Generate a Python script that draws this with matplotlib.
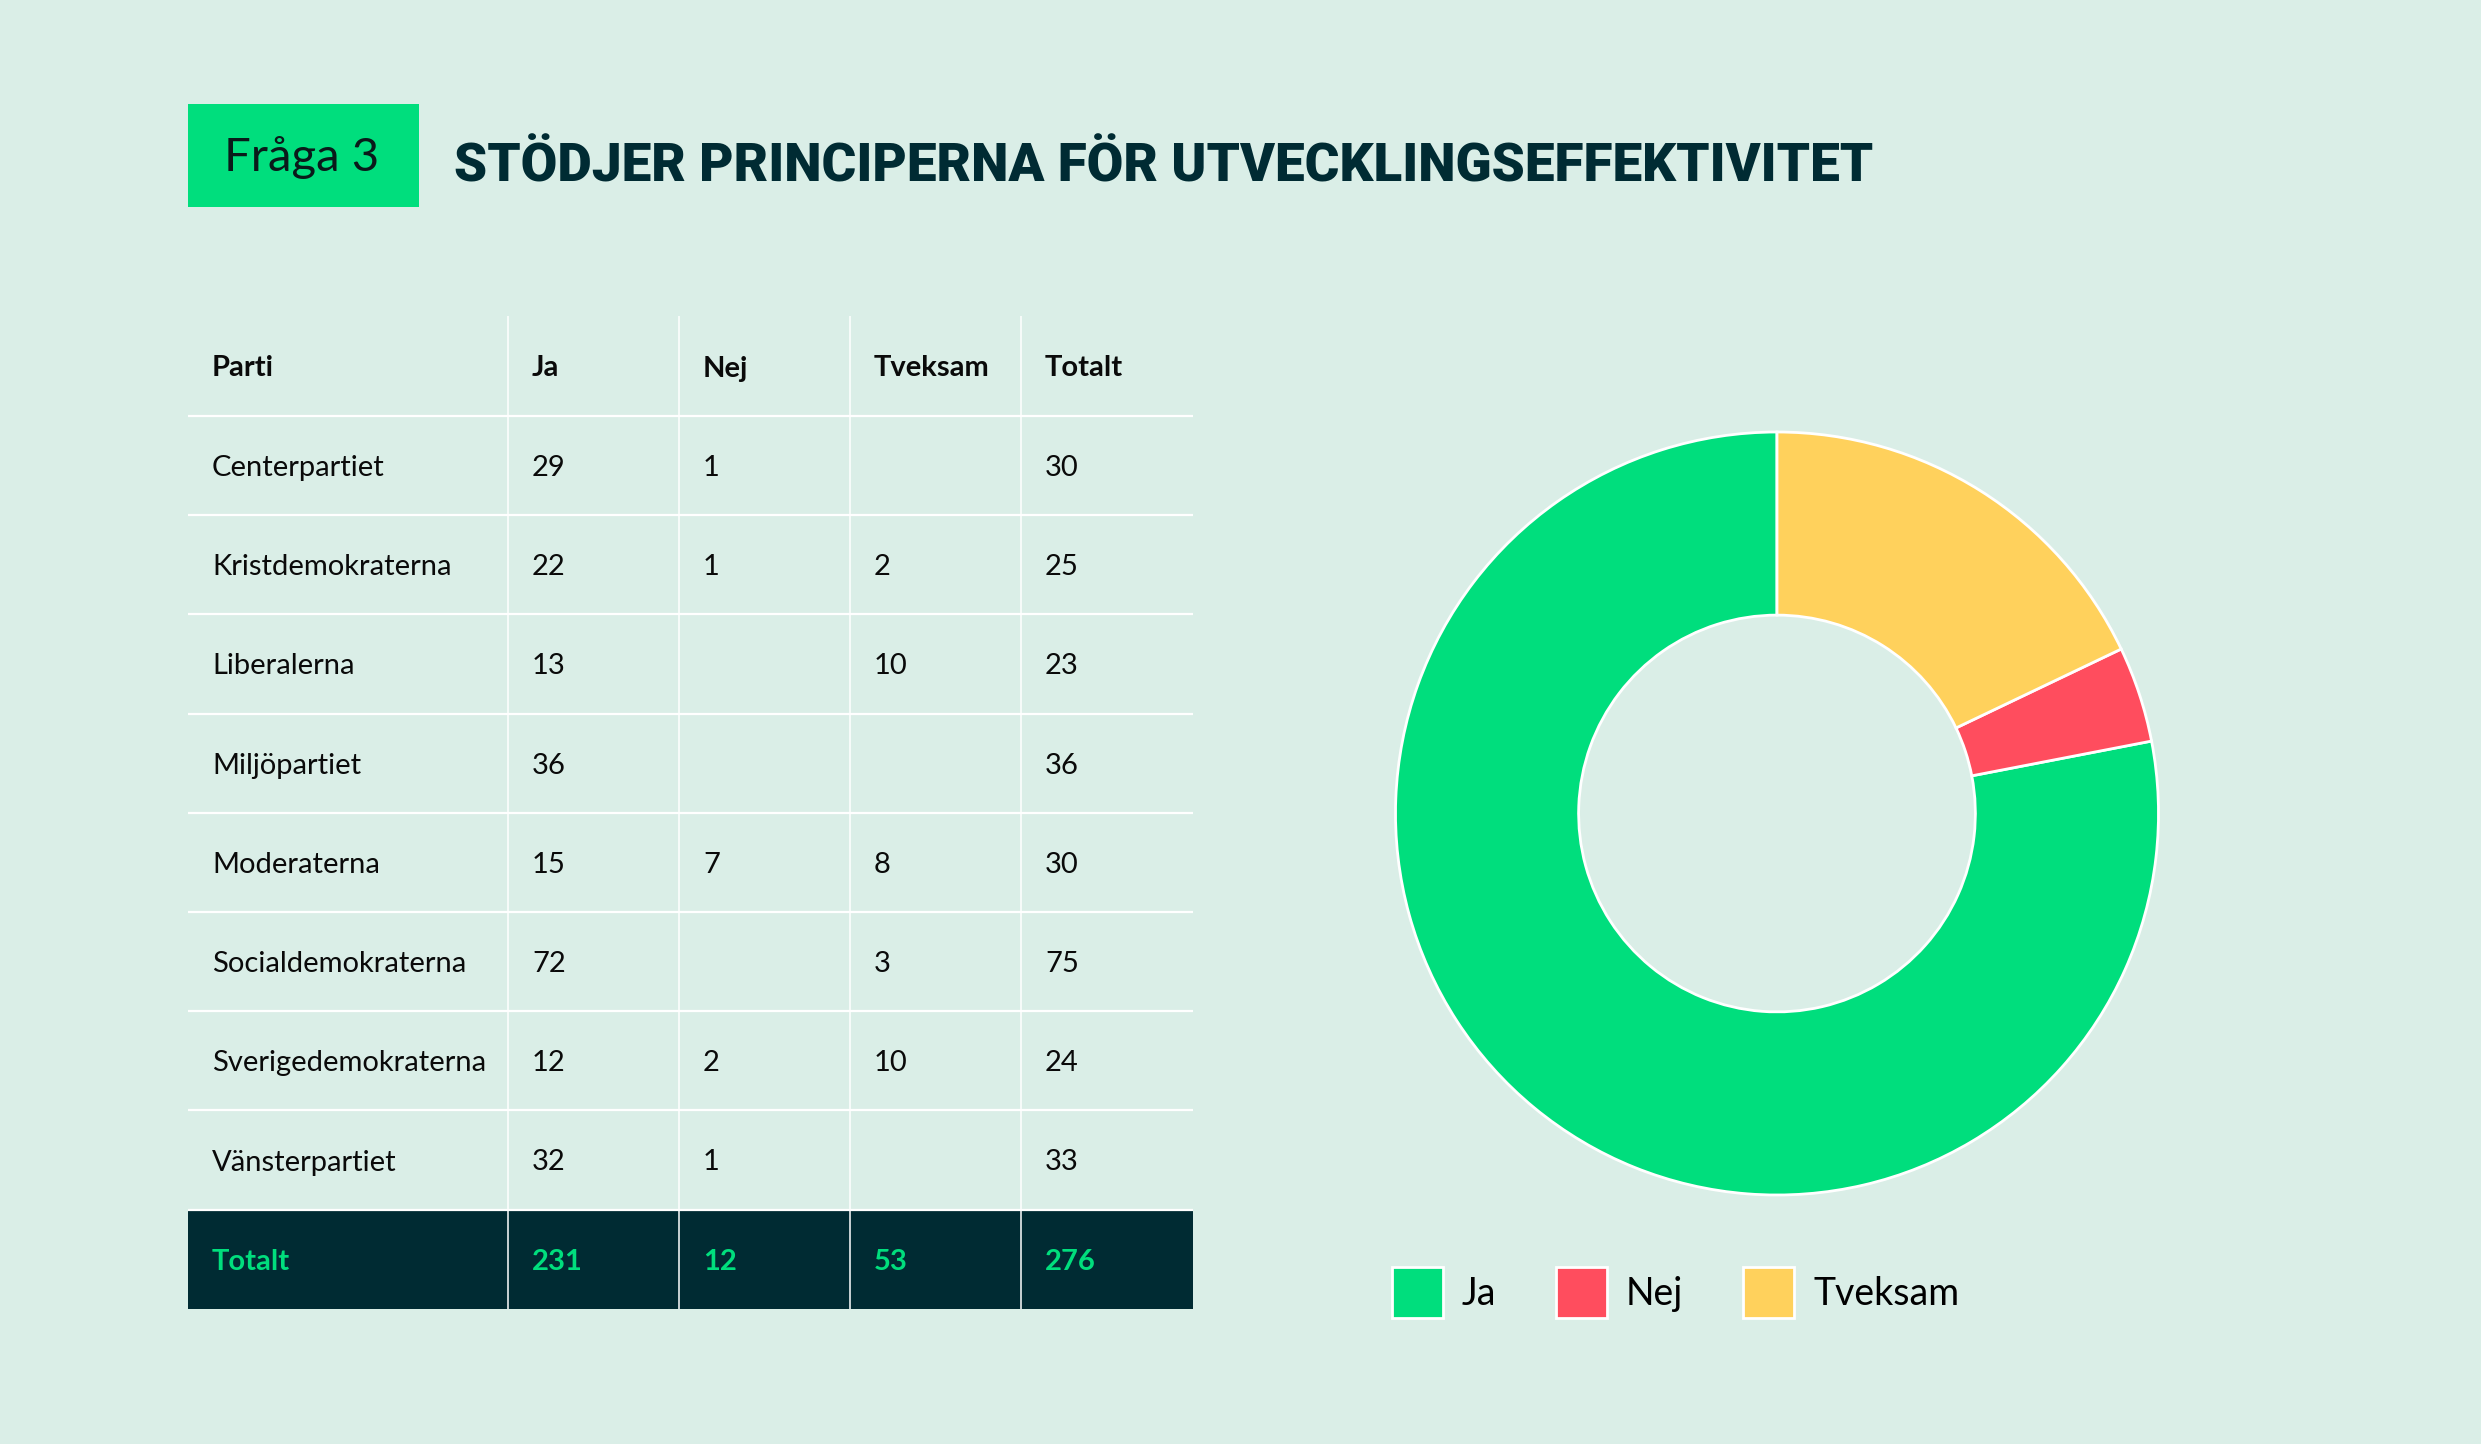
import matplotlib.pyplot as plt
from matplotlib.patches import Rectangle

# Table data
columns = ['Parti', 'Ja', 'Nej', 'Tveksam', 'Totalt']
parties = ['Centerpartiet', 'Kristdemokraterna', 'Liberalerna', 'Miljöpartiet',
           'Moderaterna', 'Socialdemokraterna', 'Sverigedemokraterna', 'Vänsterpartiet']
ja = [29, 22, 13, 36, 15, 72, 12, 32]
nej = [1, 1, None, None, 7, None, 2, 1]
tveksam = [None, 2, 10, None, 8, 3, 10, None]
totalt = [30, 25, 23, 36, 30, 75, 24, 33]
total_row = ['Totalt', 231, 12, 53, 276]

# Donut data (the totals as printed in the table)
pie_labels = ['Ja', 'Nej', 'Tveksam']
pie_values = [231, 12, 53]

GREEN = '#00DE7D'
RED = '#FF4D5E'
YELLOW = '#FFD15C'
DARK = '#002B33'
BG = '#DAEEE7'
pie_colors = [GREEN, RED, YELLOW]

W, H = 2481, 1444
fig = plt.figure(figsize=(W / 100, H / 100), dpi=100, facecolor=BG)

# base axes in pixel coordinates for the table and header
ax = fig.add_axes([0, 0, 1, 1])
ax.set_xlim(0, W)
ax.set_ylim(H, 0)
ax.axis('off')

body_font = ['Lato', 'DejaVu Sans']
title_font = ['Roboto', 'DejaVu Sans']

# Header box and title
ax.add_patch(Rectangle((188, 104), 231, 103, color=GREEN, lw=0))
ax.text(224, 171, 'Fråga 3', fontsize=34, family=body_font, color='#0A1A1A', va='baseline')
title = ax.text(454, 182, 'STÖDJER PRINCIPERNA FÖR UTVECKLINGSEFFEKTIVITET', fontsize=40,
                family=title_font, fontweight='black', color=DARK, va='baseline')
# fit the title to the width it has in the original
fig.canvas.draw()
tw = title.get_window_extent(fig.canvas.get_renderer()).width
title.set_fontsize(40 * 1419 / tw)

# Table
col_x = [188, 508, 679, 850, 1021, 1193]
top = 316
first_line = 416
row_h = 99.2
n_rows = len(parties)
total_top = first_line + n_rows * row_h
bottom = total_top + row_h

ax.add_patch(Rectangle((col_x[0], total_top), col_x[-1] - col_x[0], row_h,
                       color=DARK, lw=0, zorder=1))
for k in range(n_rows + 1):
    y = first_line + k * row_h
    ax.hlines(y, col_x[0], col_x[-1], color='white', lw=1.6, zorder=2)
ax.vlines(col_x[1:5], top, bottom, color='white', lw=1.1, zorder=2)

cap = 21
pad = 24
fs = 21


def cell(v):
    return '' if v is None else str(v)


header_y = (top + first_line) / 2 + cap / 2
for i, c in enumerate(columns):
    ax.text(col_x[i] + pad, header_y, c, fontsize=fs, family=body_font,
            fontweight='bold', color='#0A0A0A', va='baseline', zorder=3)

for r in range(n_rows):
    y = first_line + r * row_h + row_h / 2 + cap / 2
    vals = [parties[r], cell(ja[r]), cell(nej[r]), cell(tveksam[r]), cell(totalt[r])]
    for i, v in enumerate(vals):
        ax.text(col_x[i] + pad, y, v, fontsize=fs, family=body_font,
                color='#0A0A0A', va='baseline', zorder=3)

y = total_top + row_h / 2 + cap / 2
for i, v in enumerate(total_row):
    ax.text(col_x[i] + pad, y, str(v), fontsize=fs, family=body_font,
            fontweight='bold', color=GREEN, va='baseline', zorder=3)

# Donut chart
cx, cy, rad = 1777, 813.5, 381.5
ax_pie = fig.add_axes([(cx - rad) / W, 1 - (cy + rad) / H, 2 * rad / W, 2 * rad / H])
wedges, _ = ax_pie.pie(pie_values, colors=pie_colors, startangle=90, counterclock=True,
                       radius=1, wedgeprops=dict(width=0.48, edgecolor='white', linewidth=2))
ax_pie.set_xlim(-1, 1)
ax_pie.set_ylim(-1, 1)
ax_pie.set_aspect('equal')
ax_pie.axis('off')

fig.legend(wedges, pie_labels, loc='upper left', bbox_to_anchor=(1392 / W, 1 - 1267 / H),
           frameon=False, ncol=3, prop={'family': body_font, 'size': 27},
           handlelength=1.36, handleheight=1.715, handletextpad=0.5, columnspacing=1.6,
           borderpad=0, borderaxespad=0)

plt.savefig('out.png', dpi=100, facecolor=BG)
